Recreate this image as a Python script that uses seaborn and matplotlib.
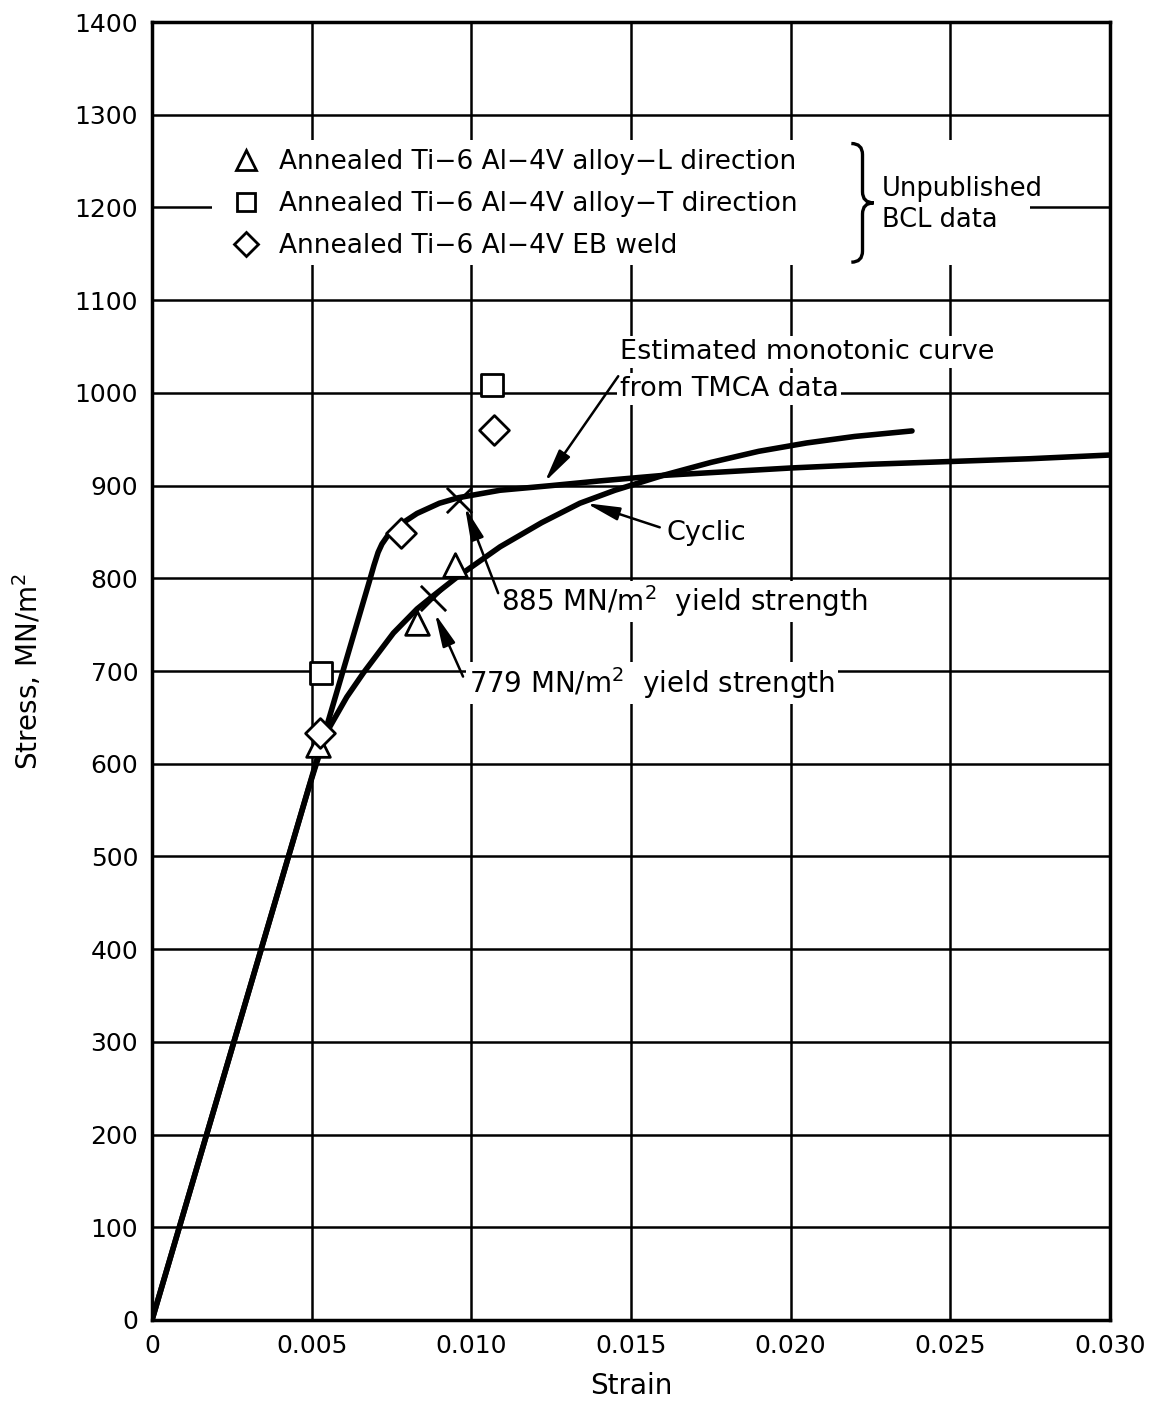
import matplotlib
matplotlib.use("Agg")
import matplotlib.pyplot as plt
from matplotlib.lines import Line2D
from matplotlib.patches import PathPatch, Rectangle
from matplotlib.path import Path
import seaborn as sns

# values
monotonic_strain = [0.0, 0.0068, 0.00695, 0.00708, 0.0072, 0.0074, 0.00777, 0.0083, 0.0090,
                    0.0096, 0.0109, 0.0125, 0.014, 0.016, 0.018, 0.020, 0.0225, 0.025,
                    0.0275, 0.030]
monotonic_stress = [0, 796, 814, 828, 837, 847, 858, 870, 881,
                    887, 895, 900, 905, 911, 915, 919, 923, 926,
                    929, 933]

cyclic_strain = [0.0, 0.0049, 0.0051, 0.0053, 0.00557, 0.0061, 0.00662, 0.0071, 0.00756,
                 0.0083, 0.0088, 0.00954, 0.0109, 0.0122, 0.0134, 0.0145, 0.016, 0.0175,
                 0.019, 0.0205, 0.022, 0.0238]
cyclic_stress = [0, 573, 595, 616, 640, 672, 698, 720, 741,
                 767, 781, 801, 834, 860, 881, 895, 911, 925,
                 937, 946, 953, 959]

l_dir_strain = [0.0052, 0.0083, 0.0095]
l_dir_stress = [620, 752, 814]
t_dir_strain = [0.0053, 0.01065]
t_dir_stress = [698, 1008]
eb_weld_strain = [0.00526, 0.0078, 0.0107]
eb_weld_stress = [633, 849, 960]

yield_strain = [0.0096, 0.0088]
yield_stress = [885, 779]

series_labels = ["Annealed Ti−6 Al−4V alloy−L direction",
                 "Annealed Ti−6 Al−4V alloy−T direction",
                 "Annealed Ti−6 Al−4V EB weld"]

x_ticks = [0, 0.005, 0.010, 0.015, 0.020, 0.025, 0.030]
x_tick_labels = ["0", "0.005", "0.010", "0.015", "0.020", "0.025", "0.030"]
y_ticks = list(range(0, 1401, 100))

sns.set_style("white")
plt.rcParams["font.family"] = ["DejaVu Sans"]
plt.rcParams["mathtext.default"] = "regular"
for key in ["text.color", "axes.labelcolor", "xtick.color", "ytick.color"]:
    plt.rcParams[key] = "black"

fig = plt.figure(figsize=(11.5, 14.05), dpi=100)
ax = fig.add_axes([0.1322, 0.0605, 0.833, 0.9238])

sns.lineplot(x=monotonic_strain, y=monotonic_stress, sort=False, color="black",
             lw=4, ax=ax, zorder=4)
sns.lineplot(x=cyclic_strain, y=cyclic_stress, sort=False, color="black",
             lw=4, ax=ax, zorder=4)

mk = dict(facecolor="white", edgecolor="black", linewidth=2, ax=ax, zorder=5)
sns.scatterplot(x=l_dir_strain, y=l_dir_stress, marker="^", s=290, **mk)
sns.scatterplot(x=t_dir_strain, y=t_dir_stress, marker="s", s=230, **mk)
sns.scatterplot(x=eb_weld_strain, y=eb_weld_stress, marker="D", s=230, **mk)
sns.scatterplot(x=yield_strain, y=yield_stress, marker="x", s=330, color="black",
                linewidth=2, ax=ax, zorder=6)

ax.set_xlim(0, 0.030)
ax.set_ylim(0, 1400)
ax.set_xticks(x_ticks)
ax.set_xticklabels(x_tick_labels)
ax.set_yticks(y_ticks)
ax.tick_params(length=0, labelsize=18, pad=10)
ax.grid(True, color="black", lw=1.8)
ax.set_axisbelow(True)
for sp in ax.spines.values():
    sp.set_color("black")
    sp.set_linewidth(2.5)

ax.set_xlabel("Strain", fontsize=20, labelpad=10)
ax.set_ylabel("Stress, MN/m$^2$", fontsize=20, labelpad=22)

# white area behind the key, the brace and its note
ax.add_patch(Rectangle((0.0626, 0.8128), 0.854, 0.0963, transform=ax.transAxes,
                       facecolor="white", edgecolor="none", zorder=1))

handles = [Line2D([], [], ls="none", marker=m, ms=ms, mfc="white", mec="black", mew=2)
           for m, ms in [("^", 15), ("s", 13), ("D", 12)]]
leg = ax.legend(handles, series_labels, loc="upper left", bbox_to_anchor=(0.071, 0.912),
                frameon=False, fontsize=19, handlelength=1.0, handletextpad=0.75,
                labelspacing=0.6, borderpad=0.5, borderaxespad=0)
leg.set_zorder(7)

# brace "}" grouping the three series
bx0, bx1, bx2 = 0.0219, 0.02225, 0.0226
btop, bmid, bbot, bc = 1269, 1205, 1141, 12
brace = Path([(bx0, btop), (bx1, btop), (bx1, btop - bc),
              (bx1, bmid + bc), (bx1, bmid), (bx2, bmid),
              (bx1, bmid), (bx1, bmid - bc),
              (bx1, bbot + bc), (bx1, bbot), (bx0, bbot)],
             [Path.MOVETO, Path.CURVE3, Path.CURVE3,
              Path.LINETO, Path.CURVE3, Path.CURVE3,
              Path.CURVE3, Path.CURVE3,
              Path.LINETO, Path.CURVE3, Path.CURVE3])
ax.add_patch(PathPatch(brace, facecolor="none", edgecolor="black", lw=2.4, zorder=7))

ax.text(0.02286, 1203, "Unpublished\nBCL data", fontsize=18.5, ha="left", va="center",
        linespacing=1.25, zorder=7)

box = dict(facecolor="white", edgecolor="none", pad=2)
arrow = dict(arrowstyle="-|>,head_length=2.0,head_width=0.4", color="black", lw=1.8,
             shrinkA=0, shrinkB=0)

ax.text(0.01465, 1044, "Estimated monotonic curve", fontsize=19.5,
        ha="left", va="center", bbox=box, zorder=3)
ax.text(0.01465, 1004, "from TMCA data", fontsize=19.5,
        ha="left", va="center", bbox=box, zorder=3)
ax.annotate("", xy=(0.0123, 904), xytext=(0.0146, 1018), arrowprops=arrow, zorder=6)

ax.text(0.0161, 849, "Cyclic", fontsize=19.5, ha="left", va="center", bbox=box, zorder=3)
ax.annotate("", xy=(0.0136, 881), xytext=(0.0159, 855), arrowprops=arrow, zorder=6)

ax.text(0.01092, 775, "885 MN/m$^2$  yield strength", fontsize=20, ha="left", va="center",
        bbox=box, zorder=3)
ax.annotate("", xy=(0.0098, 877), xytext=(0.01084, 784), arrowprops=arrow, zorder=6)

ax.text(0.00993, 687, "779 MN/m$^2$  yield strength", fontsize=20, ha="left", va="center",
        bbox=box, zorder=3)
ax.annotate("", xy=(0.00886, 762), xytext=(0.00974, 694), arrowprops=arrow, zorder=6)

fig.savefig("out.png", dpi=100)
